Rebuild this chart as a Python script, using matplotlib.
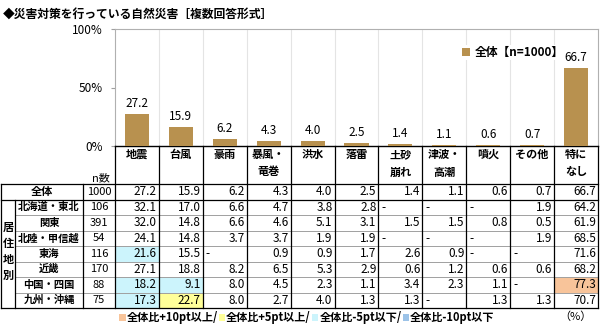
import matplotlib
matplotlib.use('Agg')
import matplotlib.pyplot as plt
from matplotlib.patches import Rectangle

plt.rcParams['font.family'] = ['Noto Sans CJK JP', 'DejaVu Sans']

title = '◆災害対策を行っている自然災害［複数回答形式］'
categories = ['地震', '台風', '豪雨', '暴風・\n竜巻', '洪水', '落雷', '土砂\n崩れ',
              '津波・\n高潮', '噴火', 'その他', '特に\nなし']
total_label = '全体'
n_total = 1000
total = [27.2, 15.9, 6.2, 4.3, 4.0, 2.5, 1.4, 1.1, 0.6, 0.7, 66.7]
group_label = '居住地別'
regions = ['北海道・東北', '関東', '北陸・甲信越', '東海', '近畿', '中国・四国', '九州・沖縄']
n_regions = [106, 391, 54, 116, 170, 88, 75]
# None = "-"
hokkaido = [32.1, 17.0, 6.6, 4.7, 3.8, 2.8, None, None, None, 1.9, 64.2]
kanto = [32.0, 14.8, 6.6, 4.6, 5.1, 3.1, 1.5, 1.5, 0.8, 0.5, 61.9]
hokuriku = [24.1, 14.8, 3.7, 3.7, 1.9, 1.9, None, None, None, 1.9, 68.5]
tokai = [21.6, 15.5, None, 0.9, 0.9, 1.7, 2.6, 0.9, None, None, 71.6]
kinki = [27.1, 18.8, 8.2, 6.5, 5.3, 2.9, 0.6, 1.2, 0.6, 0.6, 68.2]
chugoku = [18.2, 9.1, 8.0, 4.5, 2.3, 1.1, 3.4, 2.3, 1.1, None, 77.3]
kyushu = [17.3, 22.7, 8.0, 2.7, 4.0, 1.3, 1.3, None, 1.3, 1.3, 70.7]
region_values = [hokkaido, kanto, hokuriku, tokai, kinki, chugoku, kyushu]
yticks = [0, 50, 100]
legend_labels = ['全体比+10pt以上/', '全体比+5pt以上/', '全体比-5pt以下/', '全体比-10pt以下']
legend_colors = ['#F8C49A', '#FFFF99', '#CCF4FC', '#9CC3E8']

bar_color = '#B8914F'
fs = 8
fs_num = 8.5

fig = plt.figure(figsize=(6, 3.25), dpi=100)
W, H = 600, 325

# ---- bar chart ----
x0, x1, ytop, ybot = 115, 598, 29, 146
ax = fig.add_axes([x0 / W, 1 - ybot / H, (x1 - x0) / W, (ybot - ytop) / H])
xs = list(range(len(categories)))
bars = ax.bar(xs, total, width=0.55, color=bar_color, label='全体【n=1000】', zorder=3)
ax.bar_label(bars, labels=[f'{v:.1f}' for v in total], padding=3, fontsize=8.5)
ax.set_xlim(-0.5, len(categories) - 0.5)
ax.set_ylim(0, 100)
ax.set_yticks(yticks)
ax.set_yticklabels([f'{t}%' for t in yticks], fontsize=fs_num)
ax.tick_params(axis='y', length=3, color='#A0A0A0', pad=6)
ax.set_xticks([])
ax.set_xticks([i + 0.5 for i in xs[:-1]], minor=True)
ax.tick_params(axis='x', which='minor', length=0)
ax.grid(which='minor', axis='x', color='#E4E4E4', lw=0.8, zorder=0)
for s in ['left', 'top', 'right']:
    ax.spines[s].set_color('#B0B0B0')
    ax.spines[s].set_linewidth(0.8)
ax.spines['bottom'].set_color('black')
ax.spines['bottom'].set_linewidth(1)
ax.legend(loc='center left', bbox_to_anchor=((455 - x0) / (x1 - x0), 0.80),
          frameon=True, edgecolor='none', facecolor='white', framealpha=1,
          handlelength=0.7, handleheight=0.7, handletextpad=0.4, borderpad=0.1,
          prop={'size': 8.5, 'weight': 'bold'})

# ---- table ----
tab = fig.add_axes([0, 0, 1, 1])
tab.set_xlim(0, W)
tab.set_ylim(H, 0)
tab.axis('off')

colw = (x1 - x0) / len(categories)
col_edges = [x0 + i * colw for i in range(len(categories) + 1)]
head_top, head_bot = ybot, 184
rowh = 15.5
nrows = 1 + len(regions)
row_edges = [head_bot + i * rowh for i in range(nrows + 1)]
tbl_bot = row_edges[-1]
lx0, lx1, lx2 = 1, 15, 83

for i, c in enumerate(categories):
    cx = (col_edges[i] + col_edges[i + 1]) / 2
    tab.text(cx, head_top + 2, c, ha='center', va='top', fontsize=fs,
             fontweight='bold', linespacing=1.45)
tab.text(101, 178, 'n数', ha='center', va='center', fontsize=fs)


def diff_color(v, base):
    if v is None:
        return None
    d = round(v - base, 1)
    if d >= 10:
        return legend_colors[0]
    if d >= 5:
        return legend_colors[1]
    if d <= -10:
        return legend_colors[3]
    if d <= -5:
        return legend_colors[2]
    return None


all_rows = [(total_label, n_total, total)] + list(zip(regions, n_regions, region_values))
for r, (lab, n, vals) in enumerate(all_rows):
    top, bot = row_edges[r], row_edges[r + 1]
    cy = (top + bot) / 2
    if r == 0:
        tab.text((lx0 + lx2) / 2, cy, lab, ha='center', va='center', fontsize=fs, fontweight='bold')
    else:
        tab.text((lx1 + lx2) / 2, cy, lab, ha='center', va='center', fontsize=7.4, fontweight='bold')
    tab.text((lx2 + x0) / 2, cy, str(n), ha='center', va='center', fontsize=fs)
    for i, v in enumerate(vals):
        if r > 0:
            col = diff_color(v, total[i])
            if col:
                tab.add_patch(Rectangle((col_edges[i], top), colw, rowh, color=col, lw=0, zorder=0))
        if v is None:
            tab.text(col_edges[i] + 3, cy, '-', ha='left', va='center', fontsize=fs_num)
        else:
            tab.text(col_edges[i + 1] - 2, cy, f'{v:.1f}', ha='right', va='center', fontsize=fs_num)

tab.text(8, (row_edges[1] + tbl_bot) / 2 - 2, '\n'.join(group_label), ha='center', va='center',
         fontsize=fs, fontweight='bold', linespacing=1.3)

# grid lines
k = dict(color='black', lw=0.9, zorder=2)
g = dict(color='#A0A0A0', lw=0.7, zorder=1)
tab.plot([lx0, x1], [head_bot, head_bot], **k)
tab.plot([lx0, x1], [row_edges[1], row_edges[1]], **k)
tab.plot([lx0, x1], [tbl_bot, tbl_bot], **k)
for y in row_edges[2:-1]:
    tab.plot([lx1, x1], [y, y], **g)
tab.plot([lx0, lx0], [head_bot, tbl_bot], **k)
tab.plot([lx1, lx1], [row_edges[1], tbl_bot], **k)
tab.plot([lx2, lx2], [head_bot, tbl_bot], **k)
for xe in col_edges:
    tab.plot([xe, xe], [head_top, tbl_bot], **k)

# bottom legend
fig.canvas.draw()
renderer = fig.canvas.get_renderer()
lx, ly = 119, 317
for lab, col in zip(legend_labels, legend_colors):
    tab.add_patch(Rectangle((lx, ly - 3.5), 6.5, 7, color=col, lw=0))
    t = tab.text(lx + 7.5, ly, lab, ha='left', va='center', fontsize=fs, fontweight='bold')
    bb = t.get_window_extent(renderer)
    lx = bb.x1 + 1
tab.text(575, ly, '（%）', ha='center', va='center', fontsize=fs)

tab.text(3, 14, title, ha='left', va='center', fontsize=8.5, fontweight='bold')

fig.savefig('out.png', dpi=100)
